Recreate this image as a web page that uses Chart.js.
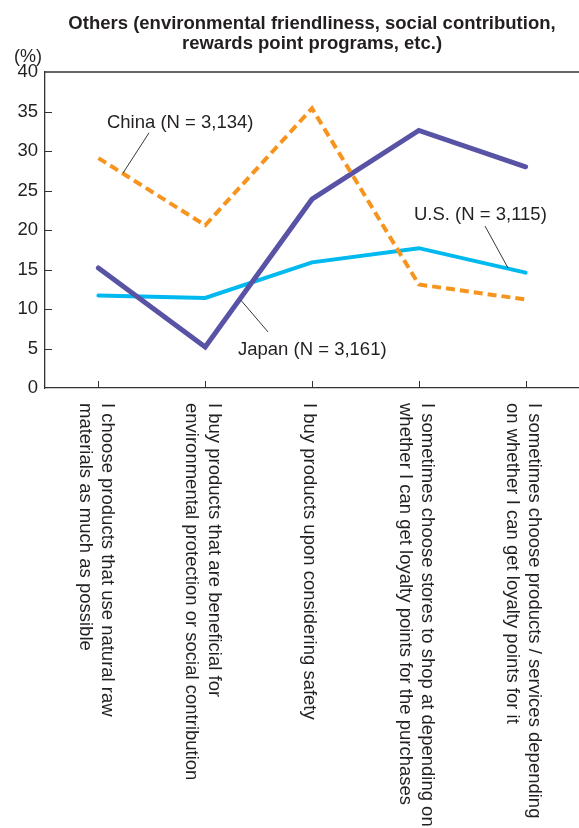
<!DOCTYPE html>
<html>
<head>
<meta charset="utf-8">
<script src="https://cdn.jsdelivr.net/npm/chart.js@4.4.1/dist/chart.umd.min.js"></script>
<style>
  html, body { margin: 0; padding: 0; background: #ffffff; }
  canvas { display: block; }
</style>
</head>
<body>
<canvas id="chart" width="579" height="828"></canvas>
<script>
// Survey items (multi-line labels)
const categories = [
  ["I choose products that use natural raw", "materials as much as possible"],
  ["I buy products that are beneficial for", "environmental protection or social contribution"],
  ["I buy products upon considering safety"],
  ["I sometimes choose stores to shop at depending on", "whether I can get loyalty points for the purchases"],
  ["I sometimes choose products / services depending", "on whether I can get loyalty points for it"]
];

// Share of respondents (%)
const japanValues = [15.2, 5.2, 23.9, 32.6, 28.0];
const usValues    = [11.7, 11.4, 15.9, 17.7, 14.6];
const chinaValues = [29.1, 20.6, 35.4, 13.1, 11.2];

const seriesNames = ["Japan (N = 3,161)", "U.S. (N = 3,115)", "China (N = 3,134)"];

const yTicks = [0, 5, 10, 15, 20, 25, 30, 35, 40];

const titleLines = [
  "Others (environmental friendliness, social contribution,",
  "rewards point programs, etc.)"
];

const FONT = "'Liberation Sans', Arial, Helvetica, sans-serif";
const TEXT = "#231f20";
const AXIS = "#333333";

// Series name callouts: text anchor and leader line, in (category index, value) units
const callouts = [
  { text: seriesNames[2], at: [0.08, 32.9], line: [[0.474, 32.3], [0.230, 27.2]] },
  { text: seriesNames[1], at: [2.955, 21.3], line: [[3.62, 20.5], [3.835, 15.2]] },
  { text: seriesNames[0], at: [1.307, 4.2], line: [[1.588, 7.1], [1.335, 11.1]] }
];

const decorations = {
  id: "decorations",
  afterDraw(chart) {
    const { ctx, chartArea: ca, scales: { x, y } } = chart;
    const step = x.getPixelForValue(1) - x.getPixelForValue(0);
    const X = fi => x.getPixelForValue(0) + step * fi;
    const Y = v => y.getPixelForValue(v);

    ctx.save();

    // top frame line
    ctx.strokeStyle = AXIS;
    ctx.lineWidth = 1.3;
    ctx.beginPath();
    ctx.moveTo(ca.left, ca.top);
    ctx.lineTo(ca.right, ca.top);
    ctx.stroke();

    // inward tick marks
    ctx.lineWidth = 1;
    ctx.beginPath();
    yTicks.forEach(v => {
      if (v === 0 || v === 40) return;
      const py = Math.round(Y(v)) + 0.5;
      ctx.moveTo(ca.left, py);
      ctx.lineTo(ca.left + 7, py);
    });
    categories.forEach((c, i) => {
      const px = Math.round(x.getPixelForValue(i)) + 0.5;
      ctx.moveTo(px, ca.bottom);
      ctx.lineTo(px, ca.bottom - 7);
    });
    ctx.stroke();

    // title
    ctx.fillStyle = TEXT;
    ctx.font = "bold 18.5px " + FONT;
    ctx.textAlign = "center";
    ctx.textBaseline = "alphabetic";
    const cx = (ca.left + ca.right) / 2;
    ctx.fillText(titleLines[0], cx, 29);
    ctx.fillText(titleLines[1], cx, 49);

    // unit label
    ctx.font = "18px " + FONT;
    ctx.fillText("(%)", 28, 62);

    // callouts
    ctx.font = "18.5px " + FONT;
    ctx.textAlign = "left";
    callouts.forEach(c => {
      ctx.fillText(c.text, X(c.at[0]), Y(c.at[1]));
      ctx.strokeStyle = TEXT;
      ctx.lineWidth = 0.9;
      ctx.beginPath();
      ctx.moveTo(X(c.line[0][0]), Y(c.line[0][1]));
      ctx.lineTo(X(c.line[1][0]), Y(c.line[1][1]));
      ctx.stroke();
    });

    // rotated category labels, reading top to bottom
    const lh = 22.5;
    ctx.font = "18.5px " + FONT;
    ctx.textAlign = "left";
    ctx.textBaseline = "middle";
    categories.forEach((lines, i) => {
      const px = x.getPixelForValue(i) - 2.5;
      ctx.save();
      ctx.translate(px, ca.bottom + 15);
      ctx.rotate(Math.PI / 2);
      lines.forEach((ln, j) => {
        ctx.fillText(ln, 0, (j - (lines.length - 1) / 2) * lh);
      });
      ctx.restore();
    });

    ctx.restore();
  }
};

new Chart(document.getElementById("chart"), {
  type: "line",
  data: {
    labels: categories,
    datasets: [
      {
        label: seriesNames[2],
        data: chinaValues,
        borderColor: "#f7941e",
        borderWidth: 4,
        borderDash: [9, 5],
        borderCapStyle: "butt",
        pointRadius: 0,
        tension: 0,
        fill: false
      },
      {
        label: seriesNames[0],
        data: japanValues,
        borderColor: "#5853a5",
        borderWidth: 5,
        borderCapStyle: "round",
        pointRadius: 0,
        tension: 0,
        fill: false
      },
      {
        label: seriesNames[1],
        data: usValues,
        borderColor: "#00b9ef",
        borderWidth: 4,
        borderCapStyle: "round",
        pointRadius: 0,
        tension: 0,
        fill: false
      }
    ]
  },
  options: {
    responsive: false,
    animation: false,
    devicePixelRatio: 1,
    layout: { padding: { top: 72, left: 0, right: 0, bottom: 0 } },
    plugins: {
      legend: { display: false },
      title: { display: false },
      tooltip: { enabled: false }
    },
    scales: {
      x: {
        type: "category",
        offset: true,
        grid: { display: true, drawOnChartArea: false, drawTicks: false },
        border: { display: true, color: AXIS, width: 1.3 },
        ticks: { display: false },
        afterFit(s) { s.height = 440; s.paddingLeft = 0; s.paddingRight = 0; }
      },
      y: {
        min: 0,
        max: 40,
        afterBuildTicks(s) { s.ticks = yTicks.map(v => ({ value: v })); },
        grid: { display: true, drawOnChartArea: false, drawTicks: false },
        border: { display: true, color: AXIS, width: 1.3 },
        ticks: {
          color: TEXT,
          padding: 7,
          font: { size: 18.5, family: FONT }
        },
        afterFit(s) { s.width = 45; s.paddingTop = 0; s.paddingBottom = 0; }
      }
    }
  },
  plugins: [decorations]
});
</script>
</body>
</html>
